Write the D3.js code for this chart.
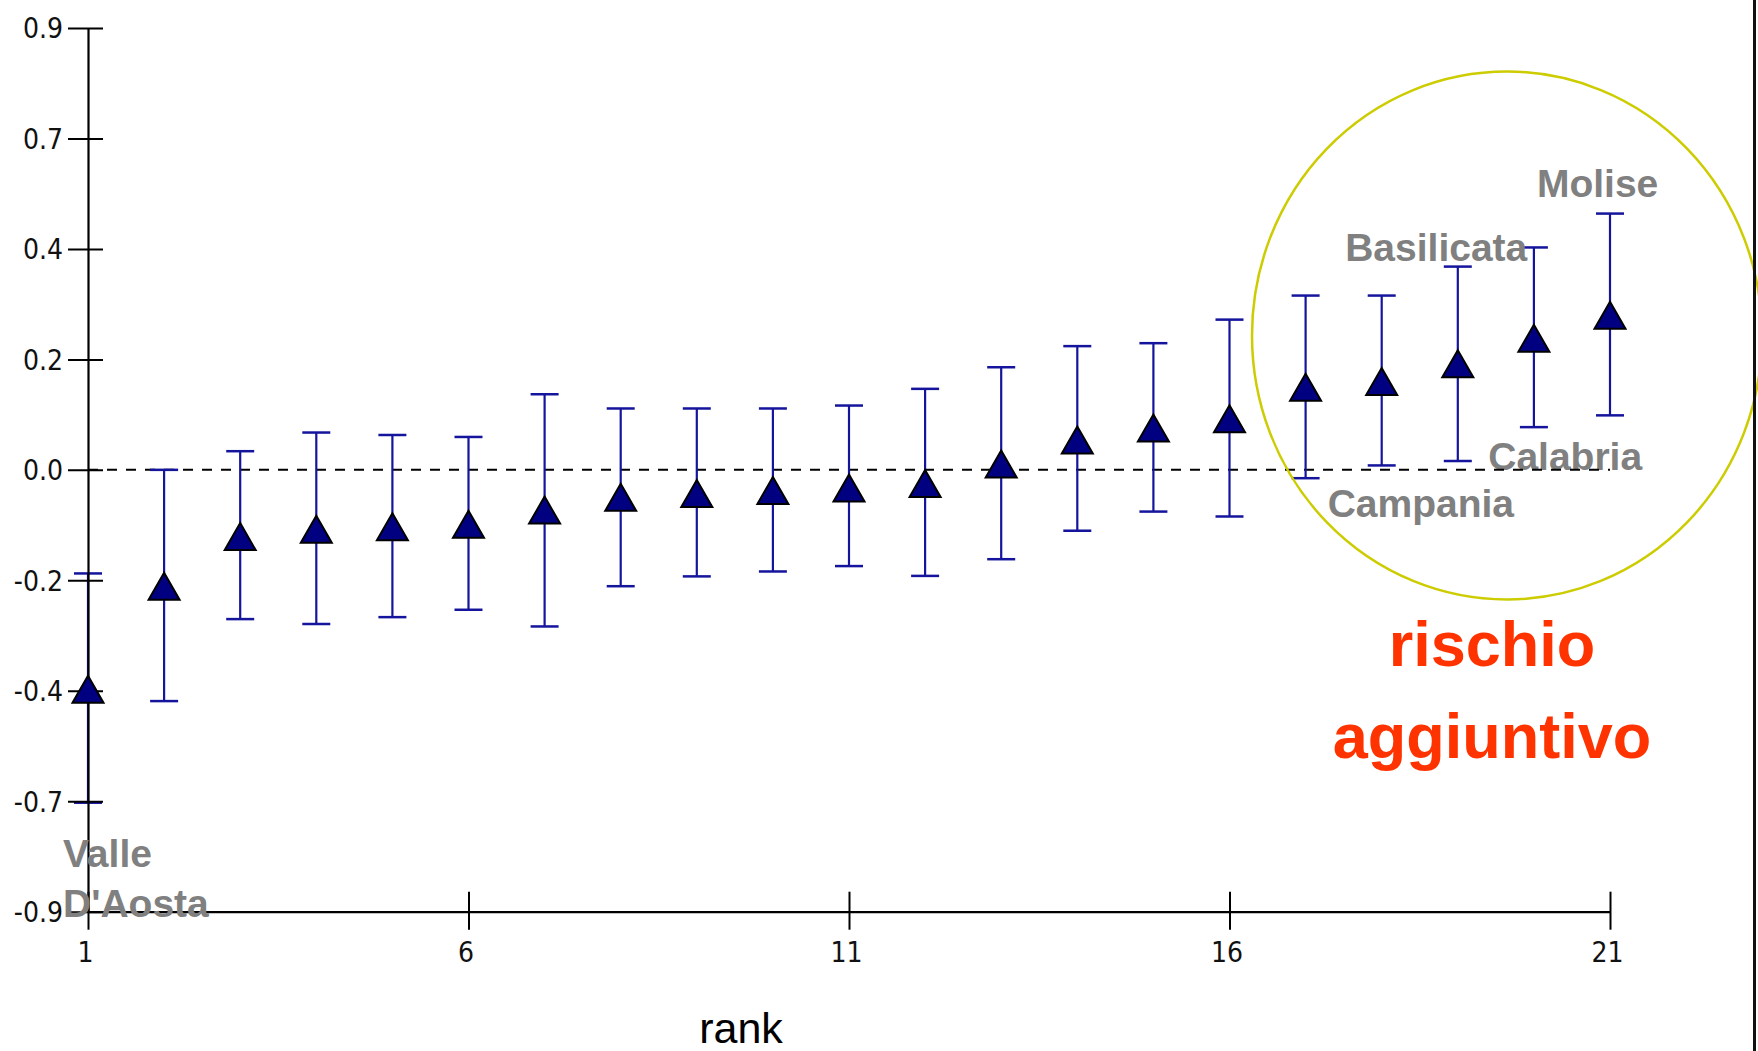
<!DOCTYPE html>
<html>
<head>
<meta charset="utf-8">
<script src="https://cdn.jsdelivr.net/npm/d3@7"></script>
<style>
  html, body { margin: 0; padding: 0; background: #ffffff; }
  svg { display: block; }
  .narrow { font-family: "Liberation Sans Narrow", "Arial Narrow", "DejaVu Sans Condensed", sans-serif; }
</style>
</head>
<body>
<script>
// ---- data ----
const ranks = [1,2,3,4,5,6,7,8,9,10,11,12,13,14,15,16,17,18,19,20,21];
const estimate = [-0.447,-0.237,-0.136,-0.121,-0.116,-0.111,-0.082,-0.056,-0.048,-0.042,-0.037,-0.028,0.012,0.061,0.085,0.104,0.168,0.180,0.216,0.268,0.315];
const lower = [-0.678,-0.471,-0.304,-0.314,-0.300,-0.285,-0.319,-0.237,-0.217,-0.207,-0.196,-0.216,-0.182,-0.124,-0.085,-0.095,-0.017,0.009,0.018,0.087,0.111];
const upper = [-0.211,0.000,0.038,0.076,0.071,0.067,0.154,0.125,0.125,0.125,0.131,0.165,0.209,0.252,0.258,0.306,0.355,0.355,0.414,0.453,0.522];
const yTickValues = [0.9,0.675,0.45,0.225,0,-0.225,-0.45,-0.675,-0.9];
const yTickLabels = ["0.9","0.7","0.4","0.2","0.0","-0.2","-0.4","-0.7","-0.9"];
const xTickValues = [1,6,11,16,21];
const regionLabels = [
  {text:"Molise", anchorRank:20.04, value:0.556},
  {text:"Basilicata", anchorRank:17.52, value:0.4255},
  {text:"Calabria", anchorRank:19.40, value:0.0},
  {text:"Campania", anchorRank:17.29, value:-0.0965}
];
const valleLines = ["Valle","D'Aosta"];
const noteLines = ["rischio","aggiuntivo"];
const xTitle = "rank";

// ---- layout ----
const W = 1758, H = 1051;
const svg = d3.select("body").append("svg").attr("width", W).attr("height", H);
svg.append("rect").attr("width", W).attr("height", H).attr("fill", "#fff");

const x = d3.scaleLinear().domain([1, 21]).range([88, 1610]);
const y = d3.scaleLinear().domain([-0.9, 0.9]).range([911.7, 28]);

const data = ranks.map((r, i) => ({rank: r, est: estimate[i], lo: lower[i], hi: upper[i]}));

const lblStyle = s => s.attr("font-family", "Liberation Sans, Arial, sans-serif")
  .attr("font-weight", "bold").attr("font-size", 39).attr("fill", "#808080");

// Calabria label sits below the dashed line
const under = svg.append("g");
regionLabels.filter(d => d.text === "Calabria").forEach(d => {
  under.append("text").call(lblStyle).attr("x", x(d.anchorRank)).attr("y", y(d.value)).text(d.text);
});

// ---- zero reference line ----
svg.append("line")
  .attr("x1", x(1)).attr("x2", x(21))
  .attr("y1", y(0)).attr("y2", y(0))
  .attr("stroke", "#000").attr("stroke-width", 2)
  .attr("stroke-dasharray", "10,9");

// ---- error bars ----
const barColor = "#14149c";
const capW = 14;
const eb = svg.append("g").selectAll("g").data(data).join("g");
eb.append("line")
  .attr("x1", d => x(d.rank)).attr("x2", d => x(d.rank))
  .attr("y1", d => y(d.lo)).attr("y2", d => y(d.hi))
  .attr("stroke", barColor).attr("stroke-width", 2.2);
eb.append("line")
  .attr("x1", d => x(d.rank) - capW).attr("x2", d => x(d.rank) + capW)
  .attr("y1", d => y(d.hi)).attr("y2", d => y(d.hi))
  .attr("stroke", barColor).attr("stroke-width", 2.5);
eb.append("line")
  .attr("x1", d => x(d.rank) - capW).attr("x2", d => x(d.rank) + capW)
  .attr("y1", d => y(d.lo)).attr("y2", d => y(d.lo))
  .attr("stroke", barColor).attr("stroke-width", 2.5);

// ---- axes ----
const yAxis = d3.axisLeft(y).tickValues(yTickValues)
  .tickFormat((d, i) => yTickLabels[i]).tickSizeOuter(0);
const gy = svg.append("g").attr("transform", `translate(${x(1)},0)`).call(yAxis);
gy.select(".domain").attr("stroke", "#000").attr("stroke-width", 2.2);
gy.selectAll(".tick line").attr("x1", -20).attr("x2", 15).attr("stroke", "#000").attr("stroke-width", 2);
gy.selectAll(".tick text")
  .attr("class", "narrow").attr("x", -25).attr("dy", "0.35em")
  .attr("font-size", 28).attr("fill", "#111");

const xAxis = d3.axisBottom(x).tickValues(xTickValues).tickFormat(d3.format("d")).tickSizeOuter(0);
const gx = svg.append("g").attr("transform", `translate(0,${y(-0.9)})`).call(xAxis);
gx.select(".domain").attr("stroke", "#000").attr("stroke-width", 2.2);
gx.selectAll(".tick line").attr("y1", -20).attr("y2", 18).attr("stroke", "#000").attr("stroke-width", 2);
gx.selectAll(".tick text")
  .attr("class", "narrow").attr("y", 50).attr("dy", 0).attr("dx", -3)
  .attr("font-size", 28).attr("fill", "#111");

// ---- markers ----
const triW = 31, triH = 27;
const tri = `M0,${-triH/2}L${triW/2},${triH/2}L${-triW/2},${triH/2}Z`;
svg.append("g").selectAll("path").data(data).join("path")
  .attr("transform", d => `translate(${x(d.rank)},${y(d.est)})`)
  .attr("d", tri)
  .attr("fill", "#000080").attr("stroke", "#000").attr("stroke-width", 2).attr("stroke-linejoin", "miter");

// ---- x title ----
svg.append("text").attr("x", 741).attr("y", 1043)
  .attr("text-anchor", "middle")
  .attr("font-family", "Liberation Sans, Arial, sans-serif")
  .attr("font-size", 43).attr("fill", "#000").text(xTitle);

// ---- annotations ----
regionLabels.filter(d => d.text !== "Calabria").forEach(d => {
  svg.append("text").call(lblStyle).attr("x", x(d.anchorRank)).attr("y", y(d.value)).text(d.text);
});
valleLines.forEach((t, i) => {
  svg.append("text").call(lblStyle).attr("x", 63).attr("y", 866.7 + i * 50).text(t);
});

// highlight ellipse
svg.append("ellipse")
  .attr("cx", 1507).attr("cy", 335.5).attr("rx", 255).attr("ry", 264)
  .attr("fill", "none").attr("stroke", "#cccc00").attr("stroke-width", 2.5);

noteLines.forEach((t, i) => {
  svg.append("text").attr("x", 1492).attr("y", 666 + i * 92.3)
    .attr("text-anchor", "middle")
    .attr("font-family", "Liberation Sans, Arial, sans-serif")
    .attr("font-weight", "bold").attr("font-size", 63)
    .attr("fill", "#ff3300").text(t);
});

// right border
svg.append("line").attr("x1", 1754.5).attr("x2", 1754.5).attr("y1", 0).attr("y2", H)
  .attr("stroke", "#111").attr("stroke-width", 3);
</script>
</body>
</html>
